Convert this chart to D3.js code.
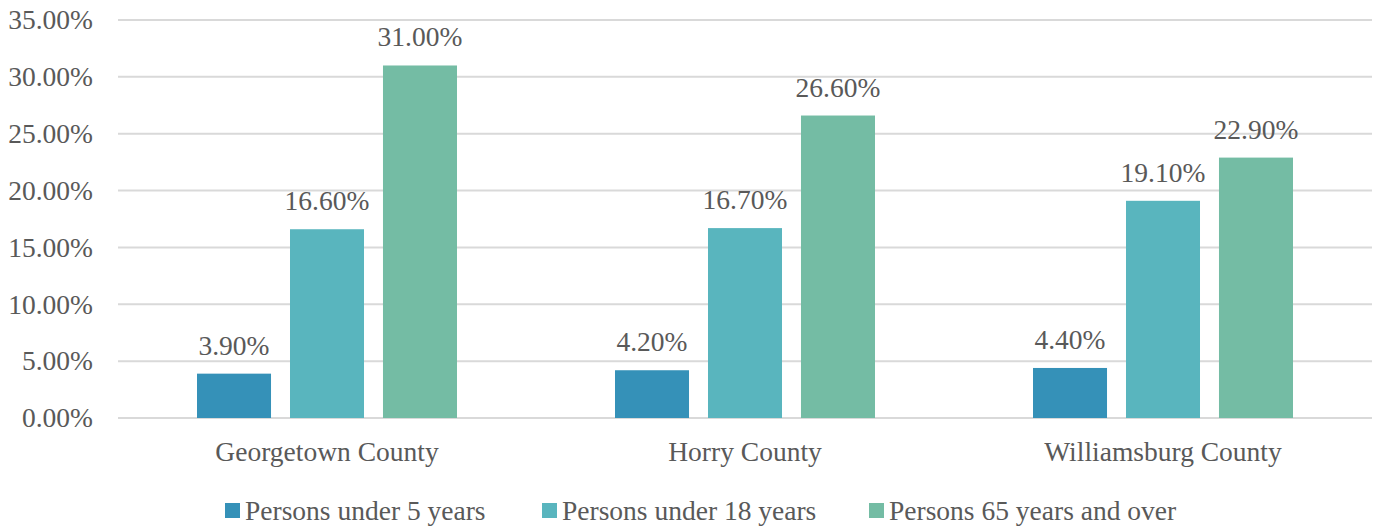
<!DOCTYPE html>
<html>
<head>
<meta charset="utf-8">
<script src="https://cdn.jsdelivr.net/npm/d3@7"></script>
<style>
  body { margin: 0; background: #fff; }
  text { font-family: "Liberation Serif", "Times New Roman", serif; fill: #595959; }
</style>
</head>
<body>
<div class="area"></div>
<script>
const width = 1381
const height = 526
const plotLeft = 118
const plotRight = 1372
const plotTop = 20
const plotBottom = 418
const fontSize = 27.5

const counties = ["Georgetown County", "Horry County", "Williamsburg County"]
const seriesNames = ["Persons under 5 years", "Persons under 18 years", "Persons 65 years and over"]
const under5 = [3.9, 4.2, 4.4]
const under18 = [16.6, 16.7, 19.1]
const over65 = [31.0, 26.6, 22.9]
const yTicks = [0, 5, 10, 15, 20, 25, 30, 35]
const colors = ["#3591b8", "#59b5be", "#74bca4"]

const seriesValues = [under5, under18, over65]

const svg = d3.select(".area")
  .append("svg")
  .attr("width", width)
  .attr("height", height)

const x0 = d3.scaleBand()
  .domain(counties)
  .range([plotLeft, plotRight])
  .paddingInner(0.378)
  .paddingOuter(0.189)

const x1 = d3.scaleBand()
  .domain(seriesNames)
  .range([0, x0.bandwidth()])
  .paddingInner(0.204)

const y = d3.scaleLinear()
  .domain([0, 35])
  .range([plotBottom, plotTop])

// gridlines
svg.append("g")
  .selectAll("line")
  .data(yTicks)
  .enter()
  .append("line")
  .attr("x1", plotLeft)
  .attr("x2", plotRight)
  .attr("y1", d => y(d))
  .attr("y2", d => y(d))
  .attr("stroke", "#d9d9d9")
  .attr("stroke-width", 2)

// y labels
const yAxis = svg.append("g")
  .attr("transform", `translate(93, 0)`)
  .call(d3.axisLeft(y).tickValues(yTicks).tickSize(0).tickFormat(d => d.toFixed(2) + "%"))
yAxis.attr("font-size", fontSize).attr("font-family", null)
yAxis.select(".domain").remove()
yAxis.selectAll("text")
  .attr("fill", "#595959")
  .attr("x", 0)

// x labels
const xAxis = svg.append("g")
  .attr("transform", `translate(0, ${plotBottom})`)
  .call(d3.axisBottom(x0).tickSize(0))
xAxis.attr("font-size", fontSize).attr("font-family", null)
xAxis.select(".domain").remove()
xAxis.selectAll("text")
  .attr("fill", "#595959")
  .attr("dy", 0)
  .attr("y", 43)

// bars
const groups = svg.append("g")
  .selectAll("g")
  .data(counties)
  .enter()
  .append("g")
  .attr("transform", d => `translate(${x0(d)}, 0)`)

groups.each(function(county, ci) {
  const g = d3.select(this)
  const rows = seriesNames.map((s, si) => ({ s, si, v: seriesValues[si][ci] }))
  g.selectAll("rect")
    .data(rows)
    .enter()
    .append("rect")
    .attr("x", d => x1(d.s))
    .attr("width", x1.bandwidth())
    .attr("y", d => y(d.v))
    .attr("height", d => y(0) - y(d.v))
    .attr("fill", d => colors[d.si])
  g.selectAll("text.val")
    .data(rows)
    .enter()
    .append("text")
    .attr("class", "val")
    .attr("x", d => x1(d.s) + x1.bandwidth() / 2)
    .attr("y", d => y(d.v) - 19)
    .attr("text-anchor", "middle")
    .attr("font-size", fontSize)
    .text(d => d.v.toFixed(2) + "%")
})

// legend
const legendX = [225, 542, 869]
const legend = svg.append("g")
  .selectAll("g")
  .data(seriesNames)
  .enter()
  .append("g")
  .attr("transform", (d, i) => `translate(${legendX[i]}, 503)`)
legend.append("rect")
  .attr("width", 15)
  .attr("height", 15)
  .attr("fill", (d, i) => colors[i])
legend.append("text")
  .attr("x", 20)
  .attr("y", 17)
  .attr("font-size", fontSize)
  .text(d => d)
</script>
</body>
</html>
